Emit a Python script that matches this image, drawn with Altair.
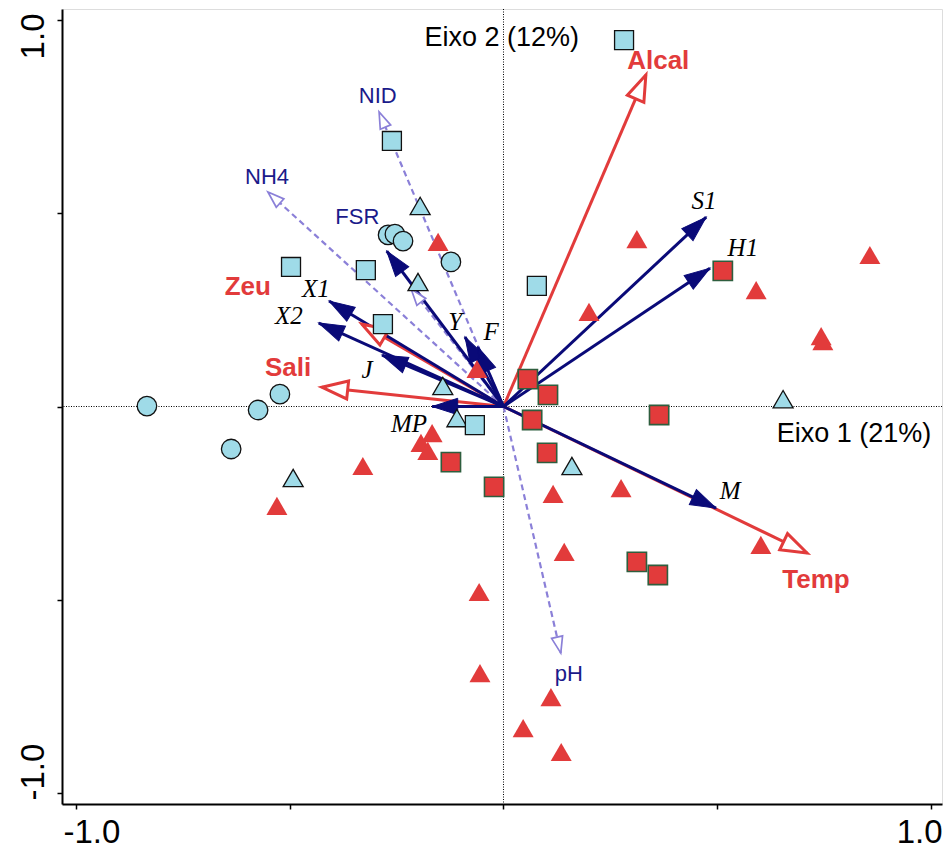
import math
import altair as alt
import pandas as pd

# ---------------- data ----------------
# environmental variables (red, solid, hollow heads)
env_names = ["Alcal", "Temp", "Zeu", "Sali"]
env_x = [0.333, 0.710, -0.331, -0.425]
env_y = [0.858, -0.379, 0.213, 0.050]
env_lab_x = [0.362, 0.731, -0.598, -0.504]
env_lab_y = [0.894, -0.449, 0.308, 0.100]

# supplementary variables (dashed, hollow heads)
sup_names = ["NID", "NH4", "pH", "FSR"]
sup_x = [-0.291, -0.551, 0.134, -0.216]
sup_y = [0.762, 0.555, -0.638, 0.304]
sup_lab_x = [-0.294, -0.553, 0.153, -0.342]
sup_lab_y = [0.803, 0.594, -0.692, 0.490]

# species (navy, solid, filled heads)
spp_names = ["S1", "H1", "M", "X1", "X2", "J", "MP", "Y", "F", ""]
spp_x = [0.474, 0.483, 0.497, -0.408, -0.432, -0.284, -0.167, -0.090, -0.060, -0.273]
spp_y = [0.490, 0.358, -0.263, 0.273, 0.216, 0.133, 0.000, 0.180, 0.154, 0.402]
spp_lab_x = [0.469, 0.560, 0.530, -0.439, -0.502, -0.319, -0.221, -0.113, -0.029]
spp_lab_y = [0.532, 0.410, -0.219, 0.304, 0.234, 0.094, -0.045, 0.219, 0.193]

# samples
cyan_sq_x = [0.282, -0.261, -0.497, -0.322, 0.078, -0.282, -0.067]
cyan_sq_y = [0.948, 0.687, 0.361, 0.353, 0.312, 0.213, -0.048]
cyan_ci_x = [-0.834, -0.574, -0.523, -0.637, -0.270, -0.254, -0.235, -0.123]
cyan_ci_y = [0.001, -0.009, 0.032, -0.110, 0.444, 0.446, 0.428, 0.374]
cyan_tr_x = [-0.195, -0.200, -0.142, -0.109, -0.492, 0.160, 0.654]
cyan_tr_y = [0.519, 0.322, 0.053, -0.030, -0.185, -0.154, 0.019]
red_tr_x = [-0.153, 0.312, 0.857, 0.591, 0.743, 0.747, 0.200, -0.062, -0.167, -0.193,
            -0.177, -0.329, -0.530, 0.116, 0.275, 0.142, 0.602, -0.057, -0.055, 0.111,
            0.046, 0.135]
red_tr_y = [0.426, 0.433, 0.392, 0.301, 0.182, 0.169, 0.245, 0.097, -0.069, -0.094,
            -0.115, -0.154, -0.257, -0.226, -0.211, -0.376, -0.358, -0.480, -0.690, -0.752,
            -0.832, -0.894]
red_sq_x = [0.513, 0.057, 0.104, 0.067, 0.364, 0.102, -0.123, -0.022, 0.312, 0.361]
red_sq_y = [0.351, 0.071, 0.030, -0.035, -0.022, -0.120, -0.144, -0.208, -0.402, -0.436]

axis_titles = ["Eixo 2 (12%)", "Eixo 1 (21%)"]
axis_title_x = [-0.004, 0.820]
axis_title_y = [0.953, -0.071]

tick_values = [-1.0, -0.5, 0.0, 0.5, 1.0]

# ---------------- layout / style ----------------
W, H = 880, 795
XDOM = [-1.0327, 1.0257]
YDOM = [-1.0285, 1.0285]
PX_X = W / (XDOM[1] - XDOM[0])
PX_Y = H / (YDOM[1] - YDOM[0])

CYAN = "#9fdbe8"
RED = "#e23b3b"
NAVY = "#0a0a78"
PURPLE = "#8b80d8"
LABNAVY = "#1a1a8a"
SANS = "Liberation Sans"
SERIF = "Liberation Serif"


def angles(xs, ys):
    return [(math.degrees(math.atan2(x * PX_X, y * PX_Y)) + 360) % 360 for x, y in zip(xs, ys)]


def arrow_df(names, xs, ys):
    return pd.DataFrame({"name": names, "x": xs, "y": ys,
                         "ox": [0.0] * len(xs), "oy": [0.0] * len(xs),
                         "ang": angles(xs, ys)})


env_df = arrow_df(env_names, env_x, env_y)
sup_df = arrow_df(sup_names, sup_x, sup_y)
spp_df = arrow_df(spp_names, spp_x, spp_y)

xs = alt.Scale(domain=XDOM, nice=False, zero=False)
ys = alt.Scale(domain=YDOM, nice=False, zero=False)

xaxis = alt.Axis(values=tick_values, title=None, grid=False,
                 labelExpr="datum.value == 1 ? '1.0' : (datum.value == -1 ? '-1.0' : '')",
                 labelFont=SANS, labelFontSize=33, labelColor="black",
                 labelAlign={"condition": {"test": "datum.value == 1", "value": "right"}, "value": "left"},
                 labelOffset={"condition": {"test": "datum.value == 1", "value": 11}, "value": -13},
                 labelBaseline="top", labelPadding=7, labelOverlap=False,
                 tickSize=5, tickWidth=1.5, tickColor="black",
                 domainColor="black", domainWidth=2)
yaxis = alt.Axis(values=tick_values, title=None, grid=False,
                 labelExpr="datum.value == 1 ? '1.0' : (datum.value == -1 ? '-1.0' : '')",
                 labelFont=SANS, labelFontSize=33, labelColor="black", labelAngle=270,
                 labelAlign={"condition": {"test": "datum.value == 1", "value": "right"}, "value": "left"},
                 labelOffset={"condition": {"test": "datum.value == 1", "value": -7}, "value": 7},
                 labelBaseline="alphabetic", labelPadding=14, labelOverlap=False,
                 tickSize=5, tickWidth=1.5, tickColor="black",
                 domainColor="black", domainWidth=2)


def X(f):
    return alt.X(f, type="quantitative", scale=xs, axis=xaxis)


def Y(f):
    return alt.Y(f, type="quantitative", scale=ys, axis=yaxis)


zero_df = pd.DataFrame({"z": [0.0]})
vline = alt.Chart(zero_df).mark_rule(color="black", strokeWidth=1, strokeDash=[1, 1.5]).encode(x=X("z"))
hline = alt.Chart(zero_df).mark_rule(color="black", strokeWidth=1, strokeDash=[1, 1.5]).encode(y=Y("z"))


def rules(df, color, width, dash=None):
    kw = dict(color=color, strokeWidth=width)
    if dash:
        kw["strokeDash"] = dash
    return alt.Chart(df).mark_rule(**kw).encode(
        x=X("ox"), y=Y("oy"), x2=alt.X2("x"), y2=alt.Y2("y"))


def heads(df, shape, fill, stroke, sw, size):
    return alt.Chart(df).mark_point(shape=shape, filled=True, fill=fill, stroke=stroke,
                                    strokeWidth=sw, size=size, opacity=1, fillOpacity=1,
                                    strokeOpacity=1).encode(
        x=X("x"), y=Y("y"), angle=alt.Angle("ang:Q", scale=None))


sup_rules = rules(sup_df, PURPLE, 2.2, [6, 4])
env_rules = rules(env_df, RED, 3)
spp_rules = rules(spp_df, NAVY, 3)

sup_heads = heads(sup_df, "M0,0 L-0.55,1.6 L0.55,1.6 Z", "white", PURPLE, 1.7, 420)
env_heads = heads(env_df, "M0,0 L-0.9,2.6 L0.9,2.6 Z", "white", RED, 3, 400)
spp_heads = heads(spp_df, "M0,0 L-0.8,2.5 L0.8,2.5 Z", NAVY, NAVY, 1, 420)


def pts(xv, yv, shape, fill, stroke, sw, size):
    df = pd.DataFrame({"x": xv, "y": yv})
    kw = dict(shape=shape, filled=True, fill=fill, size=size, opacity=1, fillOpacity=1)
    if stroke:
        kw.update(stroke=stroke, strokeWidth=sw, strokeOpacity=1)
    return alt.Chart(df).mark_point(**kw).encode(x=X("x"), y=Y("y"))


p_red_tr = pts(red_tr_x, red_tr_y, "triangle-up", RED, None, 0, 440)
p_red_sq = pts(red_sq_x, red_sq_y, "square", RED, "#2e5e3e", 1.6, 370)
p_cy_sq = pts(cyan_sq_x, cyan_sq_y, "square", CYAN, "#111111", 1.3, 360)
p_cy_ci = pts(cyan_ci_x, cyan_ci_y, "circle", CYAN, "#111111", 1.3, 380)
p_cy_tr = pts(cyan_tr_x, cyan_tr_y, "triangle-up", CYAN, "#111111", 1.3, 400)


def texts(names, xv, yv, font, size, color, weight="normal", style="normal"):
    df = pd.DataFrame({"name": names, "x": xv, "y": yv})
    return alt.Chart(df).mark_text(font=font, fontSize=size, color=color, fontWeight=weight,
                                   fontStyle=style, align="center", baseline="middle").encode(
        x=X("x"), y=Y("y"), text="name:N")


t_env = texts(env_names, env_lab_x, env_lab_y, SANS, 26, RED, weight="bold")
t_sup = texts(sup_names, sup_lab_x, sup_lab_y, SANS, 22, LABNAVY)
t_spp = texts(spp_names[:9], spp_lab_x, spp_lab_y, SERIF, 25, "black", style="italic")
t_axes = texts(axis_titles, axis_title_x, axis_title_y, SANS, 27, "black")

chart = alt.layer(
    vline, hline,
    sup_rules, env_rules, spp_rules,
    sup_heads, env_heads, spp_heads,
    p_red_tr, p_red_sq, p_cy_tr, p_cy_sq, p_cy_ci,
    t_env, t_sup, t_spp, t_axes,
).properties(
    width=W, height=H,
    autosize=alt.AutoSizeParams(type="none"),
    padding={"left": 62, "top": 9, "right": 2, "bottom": 48},
).configure_view(stroke="black", strokeWidth=2).configure(background="white")

chart.save("out.html", embed_options={"renderer": "svg", "actions": False})
